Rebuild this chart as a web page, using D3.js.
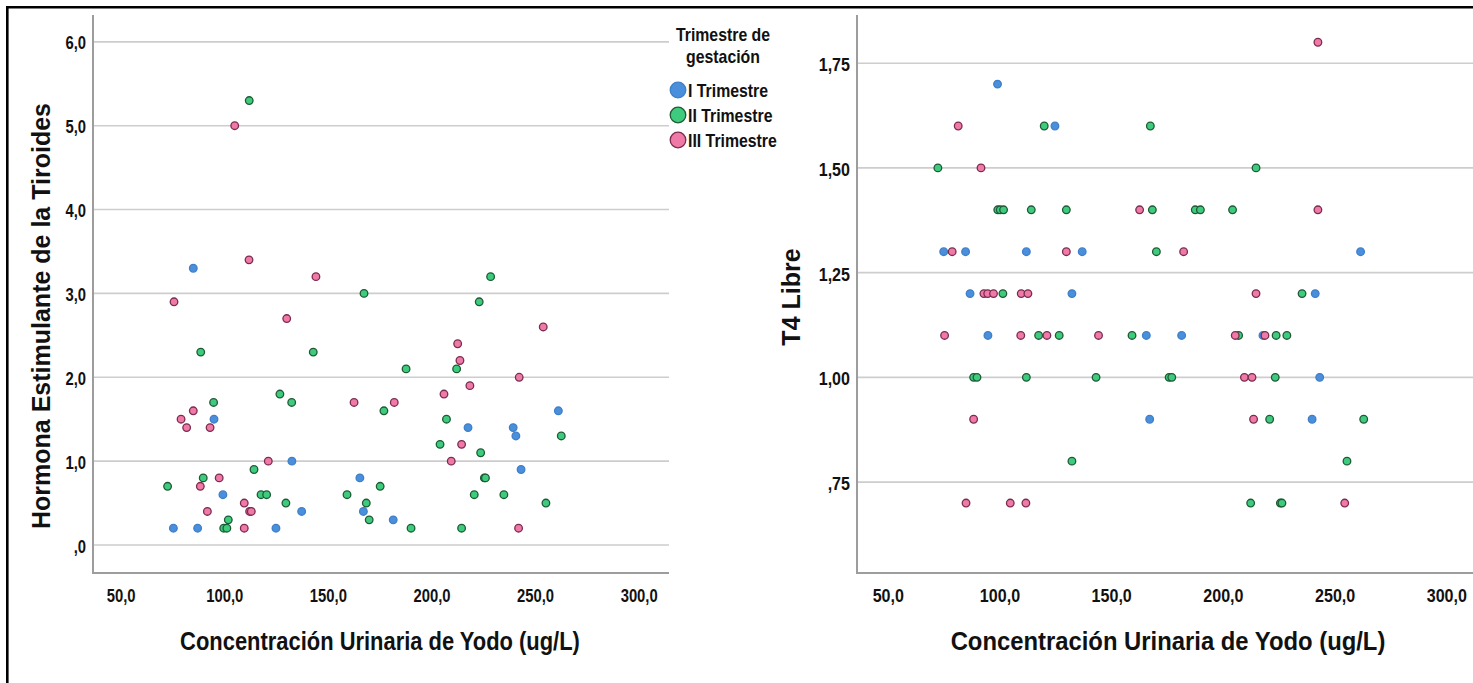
<!DOCTYPE html>
<html>
<head>
<meta charset="utf-8">
<script src="https://cdn.jsdelivr.net/npm/d3@7"></script>
<style>
  html, body { margin: 0; padding: 0; background: #ffffff; }
  svg { display: block; }
  text { font-family: "Liberation Sans", Arial, sans-serif; font-weight: bold; fill: #111; }
</style>
</head>
<body>
<svg id="chart" width="1473" height="683"></svg>
<script>
// ---------- DATA ----------
const seriesNames = ["I Trimestre", "II Trimestre", "III Trimestre"];
const legendTitle = ["Trimestre de", "gestación"];
const xTickValues = [50, 100, 150, 200, 250, 300];
const xTickLabels = ["50,0", "100,0", "150,0", "200,0", "250,0", "300,0"];
const tshTickValues = [0, 1, 2, 3, 4, 5, 6];
const tshTickLabels = [",0", "1,0", "2,0", "3,0", "4,0", "5,0", "6,0"];
const t4TickValues = [0.75, 1.00, 1.25, 1.50, 1.75];
const t4TickLabels = [",75", "1,00", "1,25", "1,50", "1,75"];
const xTitle = "Concentración Urinaria de Yodo (ug/L)";
const tshTitle = "Hormona Estimulante de la Tiroides";
const t4Title = "T4 Libre";

// TSH vs iodine  [iodine, TSH]
const tshI = [[84.8,3.3],[94.8,1.5],[132.4,1.0],[99.1,0.6],[137.1,0.4],[75.2,0.2],[86.9,0.2],[124.7,0.2],
  [165.2,0.8],[166.9,0.4],[181.3,0.3],[217.4,1.4],[239.2,1.4],[240.5,1.3],[261.0,1.6],[243.0,0.9]];
const tshII = [[111.8,5.3],[167.2,3.0],[88.4,2.3],[142.7,2.3],[126.6,1.8],[132.3,1.7],[176.8,1.6],[94.6,1.7],
  [72.4,0.7],[89.6,0.8],[114.1,0.9],[117.5,0.6],[120.2,0.6],[129.5,0.5],[101.7,0.3],[99.5,0.2],[101.0,0.2],
  [159.0,0.6],[168.3,0.5],[169.7,0.3],[175.0,0.7],[228.3,3.2],[222.8,2.9],[211.9,2.1],[187.5,2.1],[207.0,1.5],
  [262.4,1.3],[203.9,1.2],[223.5,1.1],[225.3,0.8],[225.8,0.8],[220.4,0.6],[234.7,0.6],[255.0,0.5],[189.9,0.2],[214.3,0.2]];
const tshIII = [[104.8,5.0],[111.7,3.4],[144.0,3.2],[75.5,2.9],[129.9,2.7],[162.4,1.7],[181.8,1.7],[84.8,1.6],
  [78.9,1.5],[81.6,1.4],[92.9,1.4],[121.0,1.0],[97.3,0.8],[88.2,0.7],[109.4,0.5],[91.6,0.4],[112.0,0.4],[112.8,0.4],
  [109.4,0.2],[253.7,2.6],[212.4,2.4],[213.5,2.2],[242.1,2.0],[218.3,1.9],[205.8,1.8],[214.3,1.2],[209.3,1.0],[241.8,0.2]];

// Free T4 vs iodine  [iodine, T4]
const t4I = [[98.9,1.7],[124.6,1.6],[74.8,1.3],[84.6,1.3],[111.8,1.3],[136.8,1.3],[86.6,1.2],[132.2,1.2],
  [94.6,1.1],[261.4,1.3],[241.1,1.2],[165.5,1.1],[181.3,1.1],[217.7,1.1],[243.1,1.0],[167.0,0.9],[239.7,0.9]];
const t4II = [[119.8,1.6],[72.2,1.5],[99.0,1.4],[100.1,1.4],[101.6,1.4],[114.0,1.4],[129.7,1.4],[101.3,1.2],
  [117.3,1.1],[126.5,1.1],[88.2,1.0],[89.7,1.0],[111.8,1.0],[143.0,1.0],[132.2,0.8],[167.3,1.6],[214.6,1.5],
  [168.2,1.4],[187.4,1.4],[189.7,1.4],[204.1,1.4],[170.0,1.3],[235.2,1.2],[159.1,1.1],[206.8,1.1],[223.6,1.1],
  [228.4,1.1],[175.7,1.0],[176.9,1.0],[223.2,1.0],[220.7,0.9],[262.8,0.9],[255.3,0.8],[212.2,0.7],[225.5,0.7],[226.2,0.7]];
const t4III = [[81.3,1.6],[91.5,1.5],[78.6,1.3],[129.7,1.3],[92.8,1.2],[94.5,1.2],[97.1,1.2],[109.5,1.2],
  [112.5,1.2],[75.2,1.1],[109.3,1.1],[121.0,1.1],[144.1,1.1],[88.2,0.9],[84.8,0.7],[104.6,0.7],[111.6,0.7],
  [242.3,1.8],[162.5,1.4],[242.3,1.4],[182.2,1.3],[214.6,1.2],[205.3,1.1],[218.6,1.1],[209.4,1.0],[212.8,1.0],
  [213.5,0.9],[254.3,0.7]];

// ---------- STYLE ----------
const fills = ["#4a8fdc", "#3ecb7e", "#ef7aa7"];
const strokes = ["#3f7fc8", "#1d5a35", "#7a2b4e"];

const svg = d3.select("#chart");

// outer frame
svg.append("line").attr("x1", 7).attr("x2", 1480).attr("y1", 7.3).attr("y2", 7.3)
  .attr("stroke", "#000").attr("stroke-width", 2.6);
svg.append("line").attr("x1", 7.3).attr("x2", 7.3).attr("y1", 6).attr("y2", 690)
  .attr("stroke", "#000").attr("stroke-width", 2.6);

function drawPanel(cfg) {
  const g = svg.append("g");
  const x = d3.scaleLinear().domain(cfg.xDomain).range(cfg.xRange);
  const y = d3.scaleLinear().domain(cfg.yDomain).range([573, 15]);
  const x0 = cfg.xRange[0];
  const xEnd = Math.min(cfg.xRange[1], 1480);

  // gridlines
  g.selectAll(".grid").data(cfg.yTicks).enter().append("line")
    .attr("x1", x0).attr("x2", xEnd)
    .attr("y1", d => y(d)).attr("y2", d => y(d))
    .attr("stroke", "#cdcdcd").attr("stroke-width", 1.6);

  // axes lines
  g.append("line").attr("x1", x0).attr("x2", x0).attr("y1", 15).attr("y2", 573)
    .attr("stroke", "#9d9d9d").attr("stroke-width", 2);
  g.append("line").attr("x1", x0 - 1).attr("x2", xEnd).attr("y1", 573).attr("y2", 573)
    .attr("stroke", "#9d9d9d").attr("stroke-width", 2);

  // y tick labels
  g.selectAll(".yl").data(cfg.yTicks).enter().append("text")
    .attr("transform", d => `translate(${x0 - 7},${y(d) + 1.5}) scale(${cfg.sx * 0.93},1)`)
    .attr("text-anchor", "end").attr("dominant-baseline", "central")
    .attr("font-size", 18.5)
    .text((d, i) => cfg.yLabels[i]);

  // x tick labels
  g.selectAll(".xl").data(xTickValues).enter().append("text")
    .attr("transform", d => `translate(${x(d)},${596}) scale(${cfg.sx * 0.93},1)`)
    .attr("text-anchor", "middle").attr("dominant-baseline", "central")
    .attr("font-size", 18.5)
    .text((d, i) => xTickLabels[i]);

  // x title
  g.append("text")
    .attr("transform", `translate(${cfg.xTitleX},641) scale(${cfg.sx},1)`)
    .attr("text-anchor", "middle").attr("dominant-baseline", "central")
    .attr("font-size", 25.5)
    .text(xTitle);

  // y title
  g.append("text")
    .attr("transform", `translate(${cfg.yTitleX},${cfg.yTitleY}) rotate(-90)`)
    .attr("text-anchor", "middle").attr("dominant-baseline", "central")
    .attr("font-size", 25)
    .text(cfg.yTitle);

  // points
  cfg.series.forEach((s, k) => {
    g.append("g").selectAll("circle").data(s).enter().append("circle")
      .attr("cx", d => x(d[0])).attr("cy", d => y(d[1]))
      .attr("r", 3.8)
      .attr("fill", fills[k]).attr("stroke", strokes[k]).attr("stroke-width", 1.3);
  });
}

drawPanel({
  xDomain: [36.4, 314.4], xRange: [93, 669],
  yDomain: [-0.334, 6.32],
  yTicks: tshTickValues, yLabels: tshTickLabels,
  sx: 0.86, xTitleX: 380, yTitleX: 41, yTitleY: 316, yTitle: tshTitle,
  series: [tshI, tshII, tshIII]
});

drawPanel({
  xDomain: [36, 314.4], xRange: [857, 1479],
  yDomain: [0.533, 1.865],
  yTicks: t4TickValues, yLabels: t4TickLabels,
  sx: 0.935, xTitleX: 1168, yTitleX: 791, yTitleY: 297, yTitle: t4Title,
  series: [t4I, t4II, t4III]
});

// legend
const lg = svg.append("g");
lg.selectAll(".lt").data(legendTitle).enter().append("text")
  .attr("transform", (d, i) => `translate(723,${35 + i * 22}) scale(0.88,1)`)
  .attr("text-anchor", "middle").attr("dominant-baseline", "central")
  .attr("font-size", 18).text(d => d);
const items = lg.selectAll(".li").data(seriesNames).enter().append("g")
  .attr("transform", (d, i) => `translate(678,${90 + i * 25})`);
items.append("circle").attr("r", 7.8)
  .attr("fill", (d, i) => fills[i]).attr("stroke", (d, i) => strokes[i]).attr("stroke-width", 1.3);
items.append("text")
  .attr("transform", "translate(10,1) scale(0.88,1)")
  .attr("dominant-baseline", "central").attr("font-size", 18)
  .text(d => d);
</script>
</body>
</html>
